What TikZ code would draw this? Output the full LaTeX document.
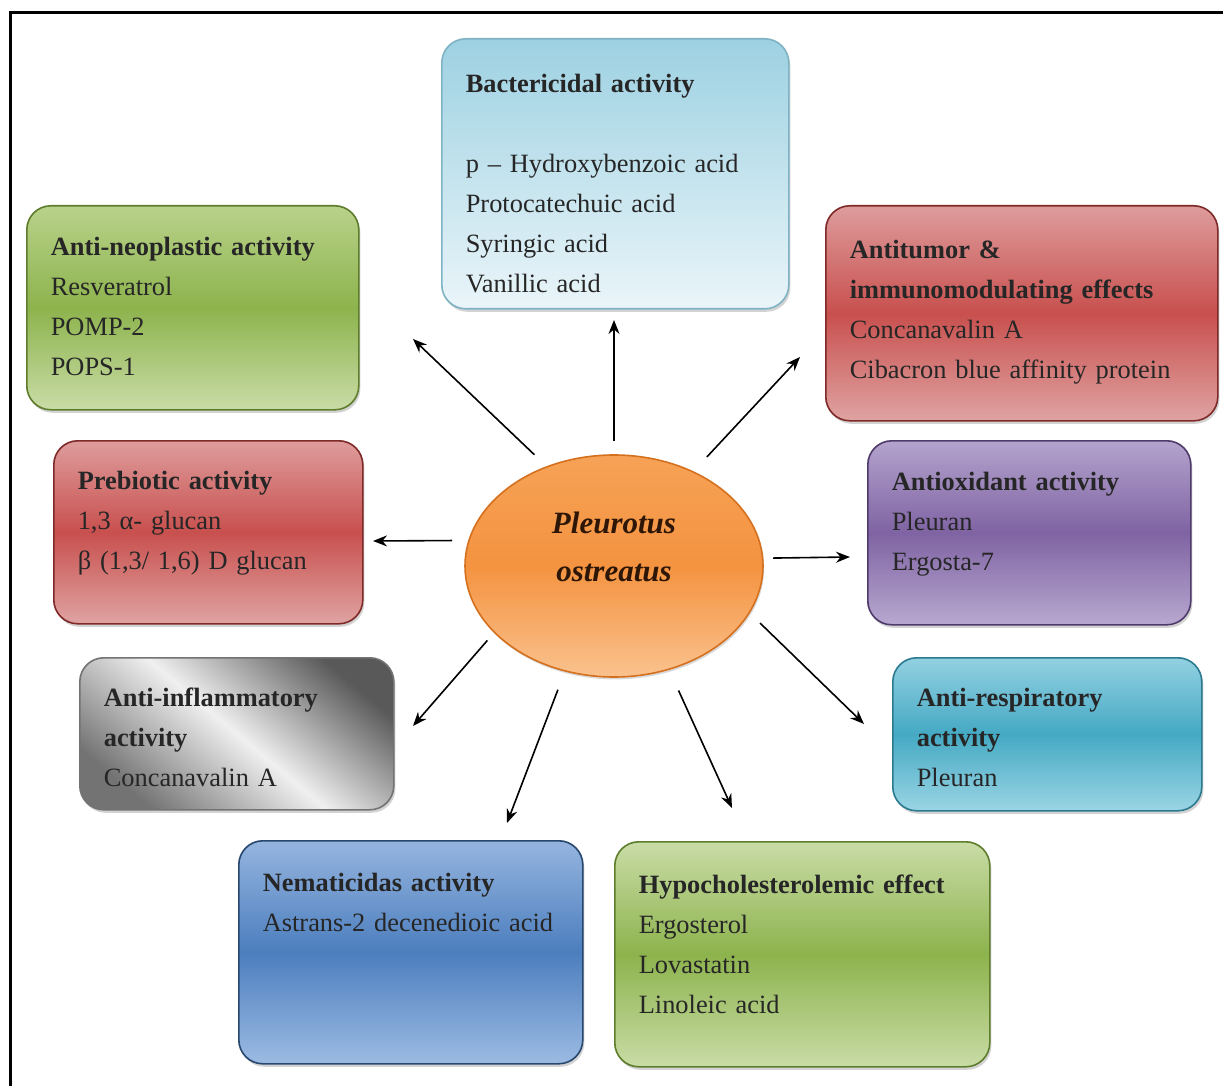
\documentclass[tikz,border=0pt]{standalone}
\usepackage{fontspec}
\setmainfont{Liberation Serif}
\usetikzlibrary{shapes.geometric,arrows.meta,shadows}

\definecolor{bactA}{HTML}{9DD1E2}
\definecolor{bactB}{HTML}{EAF5F9}
\definecolor{bactD}{HTML}{7FB3C4}
\definecolor{neoA}{HTML}{B9D28A}
\definecolor{neoM}{HTML}{8DB34D}
\definecolor{neoB}{HTML}{C9DCA6}
\definecolor{neoD}{HTML}{5E7D2C}
\definecolor{redA}{HTML}{DE9C9C}
\definecolor{redM}{HTML}{C8504E}
\definecolor{redB}{HTML}{DFA3A2}
\definecolor{redD}{HTML}{7E2A28}
\definecolor{oxA}{HTML}{B4A3CD}
\definecolor{oxM}{HTML}{7F63A3}
\definecolor{oxB}{HTML}{B8A8D0}
\definecolor{oxD}{HTML}{4F3B6B}
\definecolor{respA}{HTML}{92D1E1}
\definecolor{respM}{HTML}{45A9C4}
\definecolor{respB}{HTML}{9AD5E4}
\definecolor{respD}{HTML}{2B7A90}
\definecolor{nemaA}{HTML}{95B5DF}
\definecolor{nemaM}{HTML}{4C7EBE}
\definecolor{nemaB}{HTML}{9CBBE3}
\definecolor{nemaD}{HTML}{28476E}
\definecolor{poA}{HTML}{F6A256}
\definecolor{poM}{HTML}{F49340}
\definecolor{poB}{HTML}{FAC28E}
\definecolor{poD}{HTML}{D4701E}
\definecolor{poText}{HTML}{2E1606}

\begin{document}
\begin{tikzpicture}[x=0.5pt,y=-0.5pt,
    act/.style={anchor=north west, rounded corners=12pt, inner xsep=12pt, inner ysep=0pt,
        align=left, text=black!85, font=\fontsize{13.2}{20}\selectfont, line width=0.8pt,
        drop shadow={shadow xshift=0.8pt,shadow yshift=-1.5pt,opacity=0.35}},
    arr/.style={-{Stealth[length=7pt,width=5.5pt]}, line width=0.8pt}]
    \useasboundingbox (0,0) rectangle (1223,1086);
    %frame
    \draw[line width=1.5pt] (10,1086) -- (10,13) -- (1223,13);

    %center
    \node[ellipse, minimum width=149pt, minimum height=111pt, inner sep=0pt, outer sep=0pt,
        text width=70pt, align=center, text height=11pt, text depth=44pt,
        top color=poA, bottom color=poB, middle color=poM, draw=poD, line width=0.8pt,
        drop shadow={shadow xshift=0.6pt,shadow yshift=-1.2pt,opacity=0.3},
        font=\fontsize{15.5}{24}\selectfont\bfseries\itshape, text=poText] (po) at (614,566)
        {Pleurotus\\ ostreatus};

    %boxes
    \node[act, text width=149.5pt, text height=27pt, text depth=108pt, draw=bactD,
        top color=bactA, bottom color=bactB] (bact) at (441,38)
        {\textbf{Bactericidal activity}\\[20pt] p – Hydroxybenzoic acid\\ Protocatechuic acid\\ Syringic acid\\ Vanillic acid};
    \node[act, text width=142pt, text height=25pt, text depth=77pt, draw=neoD,
        top color=neoA, bottom color=neoB, middle color=neoM] (neo) at (26,205)
        {\textbf{Anti-neoplastic activity}\\ Resveratrol\\ POMP-2\\ POPS-1};
    \node[act, text width=172pt, text height=26.5pt, text depth=81pt, draw=redD,
        top color=redA, bottom color=redB, middle color=redM] (tumor) at (825,205)
        {\textbf{Antitumor \&}\\ \textbf{immunomodulating effects}\\ Concanavalin A\\ Cibacron blue affinity protein};
    \node[act, text width=130.5pt, text height=24.5pt, text depth=67pt, draw=redD,
        top color=redA, bottom color=redB, middle color=redM] (preb) at (53,440)
        {\textbf{Prebiotic activity}\\ 1,3 α- glucan\\ β (1,3/ 1,6) D glucan};
    \node[act, text width=137.5pt, text height=25pt, text depth=67pt, draw=oxD,
        top color=oxA, bottom color=oxB, middle color=oxM] (oxid) at (867,440)
        {\textbf{Antioxidant activity}\\ Pleuran\\ Ergosta-7};
    \node[act, text width=133pt, text height=24.5pt, text depth=51.5pt, draw=black!55,
        top color=black!65, bottom color=black!55, middle color=black!6, shading angle=-40] (infl) at (79,657)
        {\textbf{Anti-inflammatory}\\ \textbf{activity}\\ Concanavalin A};
    \node[act, text width=130.5pt, text height=24.5pt, text depth=52pt, draw=respD,
        top color=respA, bottom color=respB, middle color=respM] (resp) at (892,657)
        {\textbf{Anti-respiratory}\\ \textbf{activity}\\ Pleuran};
    \node[act, text width=148pt, text height=25.5pt, text depth=86pt, draw=nemaD,
        top color=nemaA, bottom color=nemaB, middle color=nemaM] (nema) at (238,840)
        {\textbf{Nematicidas activity}\\ Astrans-2 decenedioic acid};
    \node[act, text width=163.5pt, text height=26pt, text depth=86.5pt, draw=neoD,
        top color=neoB, bottom color=neoB, middle color=neoM] (hypo) at (614,841)
        {\textbf{Hypocholesterolemic effect}\\ Ergosterol\\ Lovastatin\\ Linoleic acid};

    %arrows
    \coordinate (tbact) at (614,320);
    \coordinate (tneo) at (413,339);
    \coordinate (ttumor) at (800,357);
    \coordinate (tpreb) at (373,541);
    \coordinate (toxid) at (850,557);
    \coordinate (tinfl) at (413,726);
    \coordinate (tresp) at (864,724);
    \coordinate (tnema) at (507,823);
    \coordinate (thypo) at (732,808);
    \draw[arr, shorten <=7pt] (po.90) -- (tbact);
    \draw[arr, shorten <=8.8pt] (po.124.7) -- (tneo);
    \draw[arr, shorten <=10.2pt] (po.50) -- (ttumor);
    \draw[arr, shorten <=8.4pt] (po.170.2) -- (tpreb);
    \draw[arr, shorten <=5.2pt] (po.3.5) -- (toxid);
    \draw[arr, shorten <=5.4pt] (po.209.4) -- (tinfl);
    \draw[arr, shorten <=7.5pt] (po.341) -- (tresp);
    \draw[arr, shorten <=10.1pt] (po.245.6) -- (tnema);
    \draw[arr, shorten <=11.7pt] (po.298.9) -- (thypo);
\end{tikzpicture}
\end{document}
